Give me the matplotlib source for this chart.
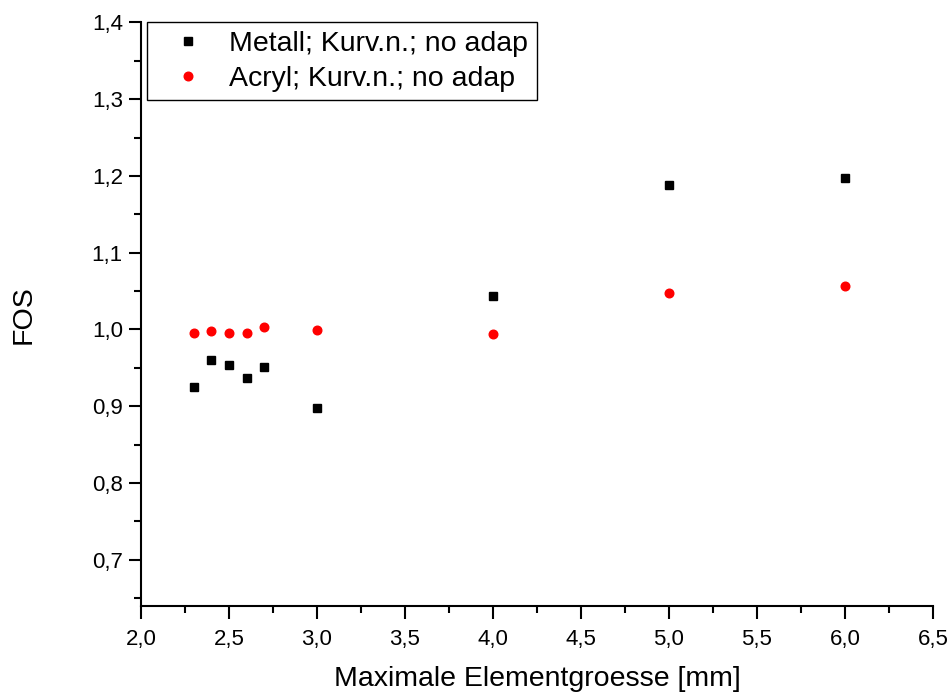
import matplotlib
matplotlib.use("Agg")
import matplotlib.pyplot as plt
from matplotlib.ticker import MultipleLocator, FuncFormatter

x_vals = [2.3, 2.4, 2.5, 2.6, 2.7, 3.0, 4.0, 5.0, 6.0]
metall = [0.925, 0.960, 0.954, 0.937, 0.951, 0.897, 1.044, 1.188, 1.198]
acryl = [0.996, 0.998, 0.996, 0.996, 1.003, 0.999, 0.994, 1.048, 1.056]
labels = ["Metall; Kurv.n.; no adap", "Acryl; Kurv.n.; no adap"]
xlabel = "Maximale Elementgroesse [mm]"
ylabel = "FOS"

plt.rcParams['font.family'] = ['Liberation Sans', 'DejaVu Sans']

fig = plt.figure(figsize=(9.52, 6.96), dpi=100)
ax = fig.add_axes([0.148, 0.1286, 0.832, 0.8391])

ax.plot(x_vals, metall, linestyle='none', marker='s', color='black', markersize=5.8, label=labels[0])
ax.plot(x_vals, acryl, linestyle='none', marker='o', color='red', markeredgecolor='red', markersize=6.2, label=labels[1])

ax.set_xlim(2.0, 6.5)
ax.set_ylim(0.639, 1.4)
ax.xaxis.set_major_locator(MultipleLocator(0.5))
ax.xaxis.set_minor_locator(MultipleLocator(0.25))
ax.yaxis.set_major_locator(MultipleLocator(0.1))
ax.yaxis.set_minor_locator(MultipleLocator(0.05))
fmt = FuncFormatter(lambda v, p: f"{v:.1f}".replace('.', ','))
ax.xaxis.set_major_formatter(fmt)
ax.yaxis.set_major_formatter(fmt)

for s in ['top', 'right']:
    ax.spines[s].set_visible(False)
for s in ['left', 'bottom']:
    ax.spines[s].set_linewidth(1.5)
ax.tick_params(which='major', direction='out', length=9, width=1.5, labelsize=16)
ax.tick_params(axis='y', which='major', pad=4)
ax.tick_params(axis='x', which='major', pad=7)
ax.tick_params(which='minor', direction='out', length=5, width=1.5)

ax.set_xlabel(xlabel, fontsize=20.5, labelpad=12)
ax.set_ylabel(ylabel, fontsize=20.5, labelpad=40)

leg = ax.legend(loc='upper left', bbox_to_anchor=(0.008, 1.0), fontsize=20.5, frameon=True,
                fancybox=False, edgecolor='black', framealpha=1, borderpad=0.3,
                handletextpad=0.3, labelspacing=0.3, handlelength=2.28, borderaxespad=0)
leg.get_frame().set_linewidth(1.0)

fig.savefig("out.png", dpi=100)
